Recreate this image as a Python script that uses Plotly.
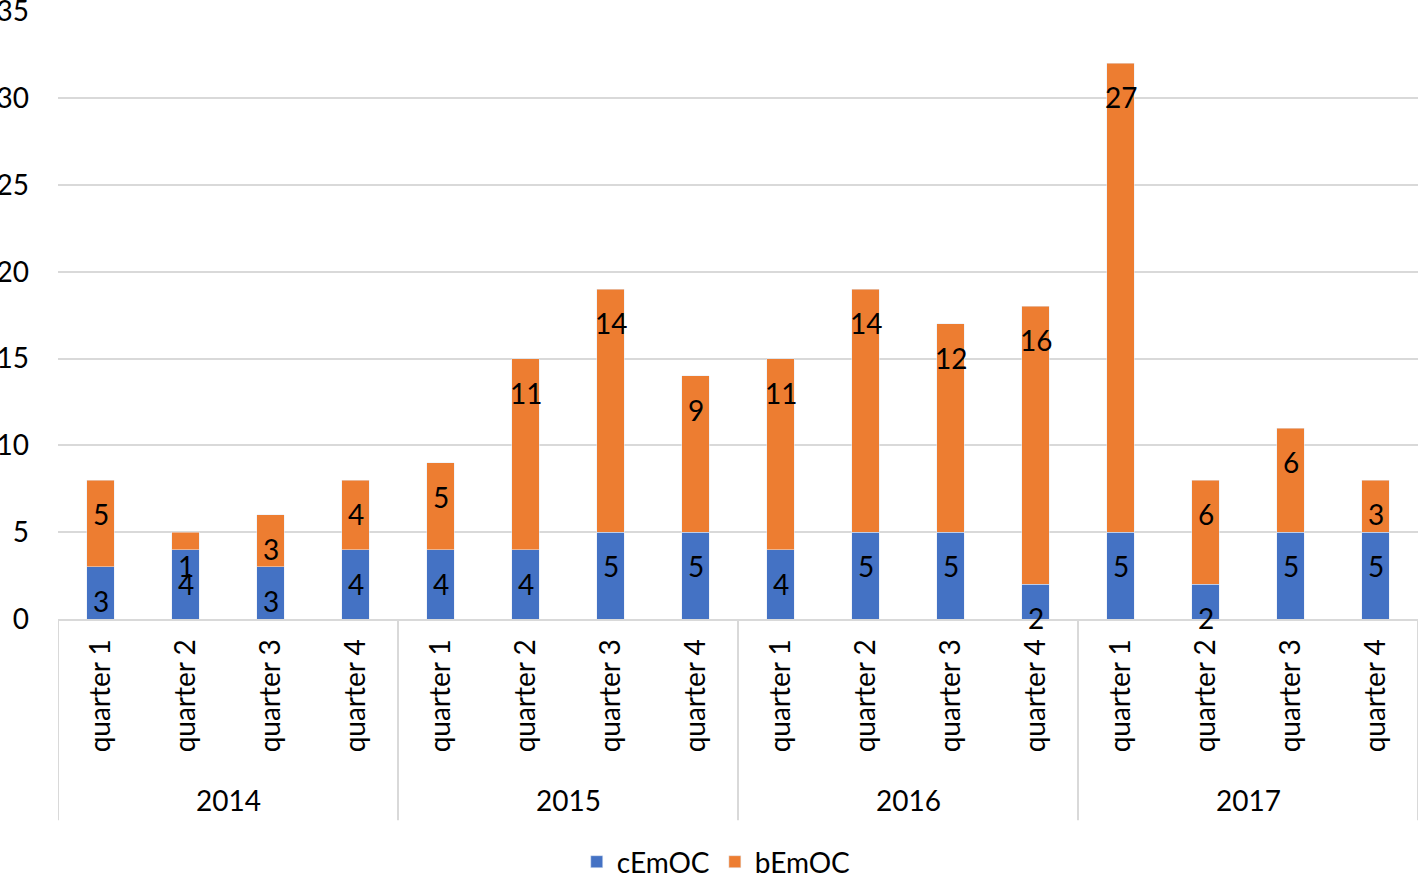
import plotly.graph_objects as go

year_names = ["2014", "2015", "2016", "2017"]
quarters = ["quarter 1", "quarter 2", "quarter 3", "quarter 4"] * 4
cemoc = [3, 4, 3, 4, 4, 4, 5, 5, 4, 5, 5, 2, 5, 2, 5, 5]
bemoc = [5, 1, 3, 4, 5, 11, 14, 9, 11, 14, 12, 16, 27, 6, 6, 3]

FONT = "Lato"
FS = 28
GRID = "#D9D9D9"
idx = list(range(len(cemoc)))

fig = go.Figure()
fig.add_trace(go.Bar(x=idx, y=cemoc, name="cEmOC", marker_color="#4472C4", width=0.32))
fig.add_trace(go.Bar(x=idx, y=bemoc, name="bEmOC", marker_color="#ED7D31", width=0.32))

for i in idx:
    fig.add_annotation(x=i, xref="x", y=cemoc[i], yref="y", text=str(cemoc[i]),
                       showarrow=False, yshift=-34, font=dict(size=FS, color="black", family=FONT))
    fig.add_annotation(x=i, xref="x", y=cemoc[i] + bemoc[i], yref="y", text=str(bemoc[i]),
                       showarrow=False, yshift=-34, font=dict(size=FS, color="black", family=FONT))

n_per = 4
for g, yname in enumerate(year_names):
    fig.add_annotation(x=g * n_per + (n_per - 1) / 2, xref="x", y=-0.298, yref="paper",
                       text=yname, showarrow=False, yanchor="middle",
                       font=dict(size=FS, color="black", family=FONT))
for g in range(len(year_names) + 1):
    fig.add_shape(type="line", x0=g * n_per - 0.5, x1=g * n_per - 0.5, xref="x",
                  y0=0, y1=-0.331, yref="paper", line=dict(color=GRID, width=2))

fig.update_layout(
    barmode="stack",
    width=1419, height=873,
    margin=dict(l=58, r=1, t=11, b=254),
    plot_bgcolor="white", paper_bgcolor="white",
    font=dict(family=FONT, size=FS, color="black"),
    legend=dict(orientation="h", x=0.484, xanchor="center",
                yref="container", y=0.0126, yanchor="middle",
                traceorder="normal", font=dict(size=FS, family=FONT)),
    showlegend=True,
)
fig.update_yaxes(range=[0, 35.02], tickvals=[0, 5, 10, 15, 20, 25, 30, 35],
                 showgrid=True, gridcolor=GRID, gridwidth=2, ticklabeloverflow="allow",
                 zeroline=False, showline=False, ticklabelstandoff=28, automargin=False,
                 tickfont=dict(size=FS, family=FONT))
fig.update_xaxes(range=[-0.5, len(idx) - 0.5], tickvals=idx, ticktext=quarters,
                 tickangle=-90, showline=True, linecolor=GRID, linewidth=2,
                 showgrid=False, zeroline=False, automargin=False, ticklabelstandoff=7,
                 tickfont=dict(size=FS, family=FONT))

fig.write_html("out.html", config={"displayModeBar": False},
               post_script="document.body.style.margin='0';document.body.style.overflow='hidden';")
